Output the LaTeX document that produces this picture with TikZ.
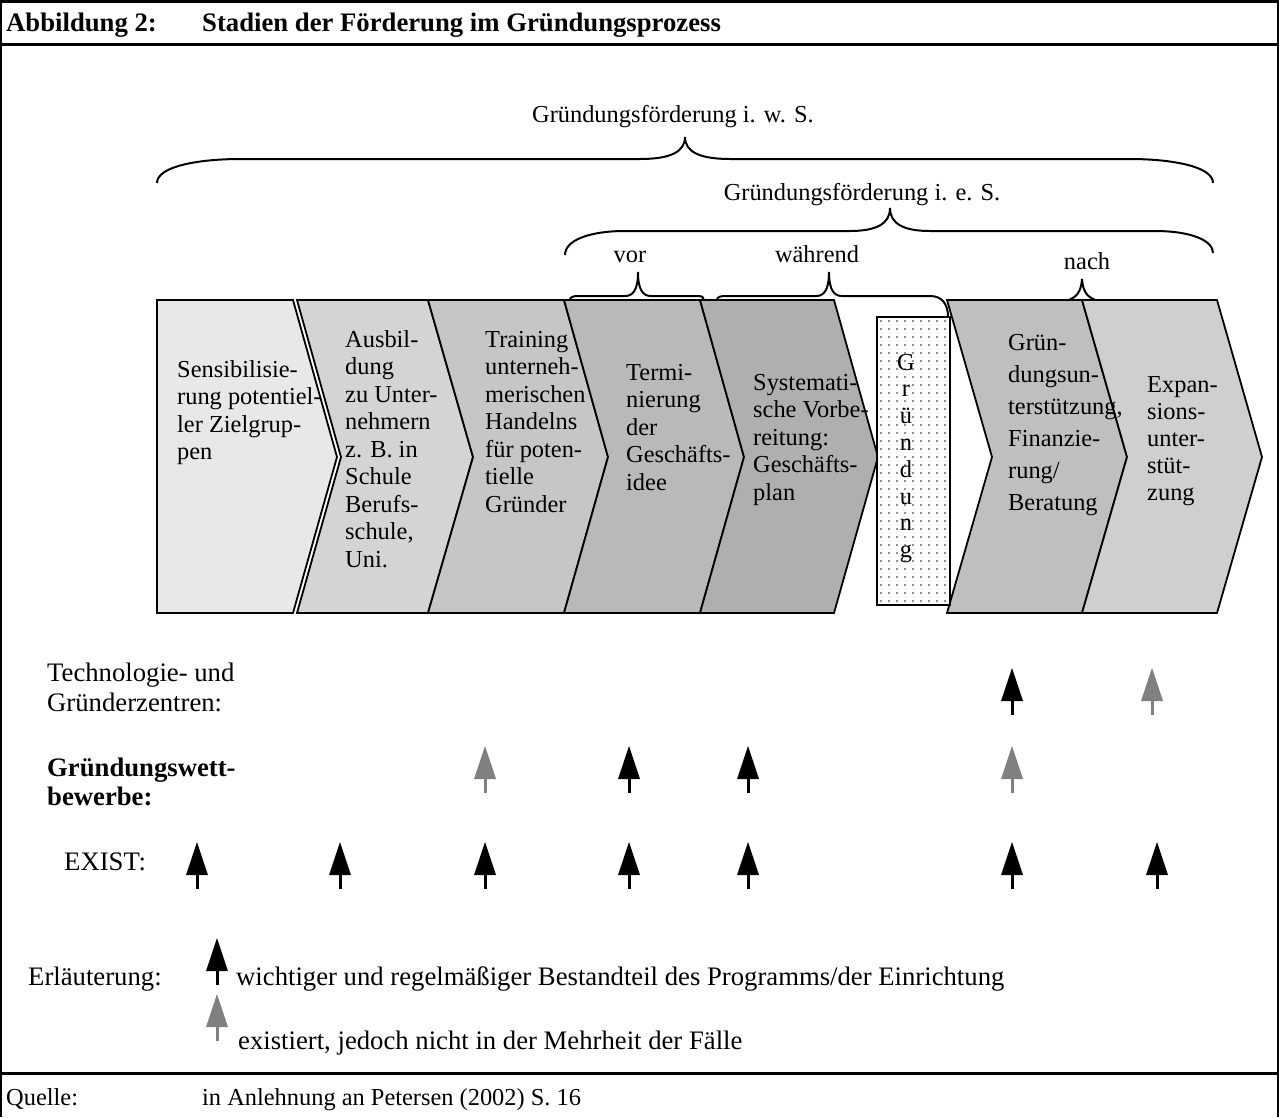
\documentclass[tikz,border=0pt]{standalone}
\usepackage{fontspec}
\setmainfont{Liberation Serif}
\definecolor{cA}{RGB}{232,232,232}
\definecolor{cB}{RGB}{212,212,212}
\definecolor{cC}{RGB}{198,198,198}
\definecolor{cD}{RGB}{185,185,185}
\definecolor{cE}{RGB}{175,175,175}
\definecolor{cF}{RGB}{191,191,191}
\definecolor{cG}{RGB}{207,207,207}
\definecolor{agray}{RGB}{128,128,128}
\definecolor{dotgray}{RGB}{110,110,110}
\tikzset{
  chev/.style={draw=black, line width=1.8pt, line join=miter},
  brace/.style={draw=black, line width=2pt},
  frameline/.style={draw=black, line width=1.5pt},
  thickline/.style={draw=black, line width=3pt},
  lab/.style={anchor=base west, inner sep=0pt, font=\fontsize{26.7}{30}\selectfont},
  sm/.style={anchor=base west, inner sep=0pt, font=\fontsize{24.4}{27.5}\selectfont},
  smc/.style={anchor=base, inner sep=0pt, font=\fontsize{24.4}{27.5}\selectfont},
}
% #1 name, #2 x, #3 baseline y, #4 baselineskip, #5 text
\newcommand\chevtext[5]{\node[anchor=base west, inner sep=0pt] (#1) at (#2,#3)
  {\parbox[t]{260pt}{\fontsize{24.4}{#4}\selectfont\raggedright #5}};}
% #1 x, #2 tip y, #3 colour
\newcommand\uparr[3]{%
  \draw[line width=3pt, #3] (#1,#2+30) -- (#1,#2+47);
  \fill[#3] (#1,#2) -- (#1-11,#2+33) -- (#1+11,#2+33) -- cycle;}
\begin{document}
\begin{tikzpicture}[x=1pt,y=-1pt]
\useasboundingbox (0,0) rectangle (1279,1117);
\fill[white] (0,0) rectangle (1279,1117);

% frame
\draw[frameline] (1,0) -- (1,1117);
\draw[frameline] (1278,0) -- (1278,1117);
\draw[thickline] (0,1.5) -- (1279,1.5);
\draw[thickline] (0,44) -- (1279,44);
\draw[thickline] (0,1073) -- (1279,1073);

% title
\node[anchor=base west, inner sep=0pt, font=\fontsize{26.7}{30}\selectfont\bfseries] (abb) at (6,31) {Abbildung 2:};
\node[anchor=base west, inner sep=0pt, font=\fontsize{26.7}{30}\selectfont\bfseries] (tit) at (202,31) {Stadien der Förderung im Gründungsprozess};

% chevrons
\path[chev, fill=cA] (157,300) -- (293,300) -- (337,457) -- (293,613) -- (157,613) -- cycle;
\path[chev, fill=cB] (297,300) -- (428,300) -- (473,457) -- (428,613) -- (297,613) -- (341,457) -- cycle;
\path[chev, fill=cC] (428,300) -- (564,300) -- (608,457) -- (564,613) -- (428,613) -- (473,457) -- cycle;
\path[chev, fill=cD] (564,300) -- (700,300) -- (744,457) -- (700,613) -- (564,613) -- (608,457) -- cycle;
\path[chev, fill=cE] (700,300) -- (834,300) -- (878,457) -- (834,613) -- (700,613) -- (744,457) -- cycle;
\path[chev, fill=cF] (947,300) -- (1082,300) -- (1127,457) -- (1082,613) -- (947,613) -- (992,457) -- cycle;
\path[chev, fill=cG] (1082,300) -- (1217,300) -- (1262,457) -- (1217,613) -- (1082,613) -- (1127,457) -- cycle;

% Gruendung box with dots
\fill[white] (877,317) rectangle (950,605);
\begin{scope}
  \clip (878,318) rectangle (949,604);
  \foreach \i in {0,...,9} {
    \foreach \j in {0,...,36} {
      \fill[dotgray] (881+\i*8,321+\j*8) circle (1.1);
    }
  }
\end{scope}
\draw[chev, line width=1.6pt] (877,317) rectangle (950,605);
\node[anchor=base, inner sep=0pt] (gr) at (906,370)
  {\parbox[t]{30pt}{\fontsize{24.4}{26.8}\selectfont\centering G\\r\\ü\\n\\d\\u\\n\\g}};

% braces
\draw[brace] (157,183) .. controls (157,166) and (200,159) .. (240,159) -- (640,159)
  .. controls (670,159) and (685,152) .. (685,137)
  .. controls (685,152) and (700,159) .. (730,159) -- (1130,159)
  .. controls (1170,159) and (1213,166) .. (1213,183);
\draw[brace] (565,255) .. controls (565,240) and (590,231) .. (625,231) -- (850,231)
  .. controls (876,231) and (890,224) .. (890,208)
  .. controls (890,224) and (904,231) .. (930,231) -- (1155,231)
  .. controls (1190,231) and (1213,240) .. (1213,253);
\draw[brace] (570,300) .. controls (570,297) and (573,296) .. (579,296) -- (625,296)
  .. controls (633,296) and (638,290) .. (638,272)
  .. controls (638,290) and (643,296) .. (651,296) -- (697,296)
  .. controls (702,296) and (704,297) .. (704,300);
\draw[brace] (717,300) .. controls (717,297) and (720,296) .. (726,296) -- (816,296)
  .. controls (824,296) and (829,290) .. (829,272)
  .. controls (829,290) and (834,296) .. (842,296) -- (930,296)
  .. controls (942,296) and (948,304) .. (948,317);
\draw[brace] (1069,300) .. controls (1075,297) and (1081,294) .. (1082,279)
  .. controls (1083,294) and (1089,297) .. (1095,300);

% brace labels
\node[smc] (iws) at (673,122) {Gründungsförderung i. w. S.};
\node[smc] (ies) at (862,200) {Gründungsförderung i. e. S.};
\node[smc] (vor) at (630,262) {vor};
\node[smc] (wae) at (817,262) {während};
\node[smc] (nach) at (1087,269) {nach};

% chevron texts
\chevtext{t1}{177}{377}{27.5}{Sensibilisie-\\rung potentiel-\\ler Zielgrup-\\pen}
\chevtext{t2}{345}{347}{27.5}{Ausbil-\\dung\\zu Unter-\\nehmern\\z. B. in\\Schule\\Berufs-\\schule,\\Uni.}
\chevtext{t3}{485}{347}{27.5}{Training\\unterneh-\\merischen\\Handelns\\für poten-\\tielle\\Gründer}
\chevtext{t4}{626}{380}{27.5}{Termi-\\nierung\\der\\Geschäfts-\\idee}
\chevtext{t5}{753}{390}{27.5}{Systemati-\\sche Vorbe-\\reitung:\\Geschäfts-\\plan}
\chevtext{t6}{1008}{350}{32}{Grün-\\dungsun-\\terstützung,\\Finanzie-\\rung/\\Beratung}
\chevtext{t7}{1147}{392}{27}{Expan-\\sions-\\unter-\\stüt-\\zung}

% row labels
\node[anchor=base west, inner sep=0pt] (tech) at (47,681)
  {\parbox[t]{300pt}{\fontsize{26.7}{30}\selectfont Technologie- und\\Gründerzentren:}};
\node[anchor=base west, inner sep=0pt] (gw) at (47,776)
  {\parbox[t]{300pt}{\fontsize{26.7}{29}\selectfont\bfseries Gründungswett-\\bewerbe:}};
\node[lab] (ex) at (64,870) {EXIST:};

% arrows: Technologie- und Gruenderzentren
\uparr{1012}{668}{black}
\uparr{1152}{668}{agray}
% Gruendungswettbewerbe
\uparr{485}{746}{agray}
\uparr{629}{746}{black}
\uparr{748}{746}{black}
\uparr{1012}{746}{agray}
% EXIST
\foreach \xx in {197,340,485,629,748,1012,1157} {\uparr{\xx}{842}{black}}

% legend
\node[lab] (erl) at (28,985) {Erläuterung:};
\uparr{217}{938}{black}
\node[lab] (l1) at (236,985) {wichtiger und regelmäßiger Bestandteil des Programms/der Einrichtung};
\uparr{217}{994}{agray}
\node[lab] (l2) at (238,1049) {existiert, jedoch nicht in der Mehrheit der Fälle};

% source
\node[sm] (q) at (6,1105) {Quelle:};
\node[sm] (qt) at (202,1105) {in Anlehnung an Petersen (2002) S. 16};
\end{tikzpicture}
\end{document}
